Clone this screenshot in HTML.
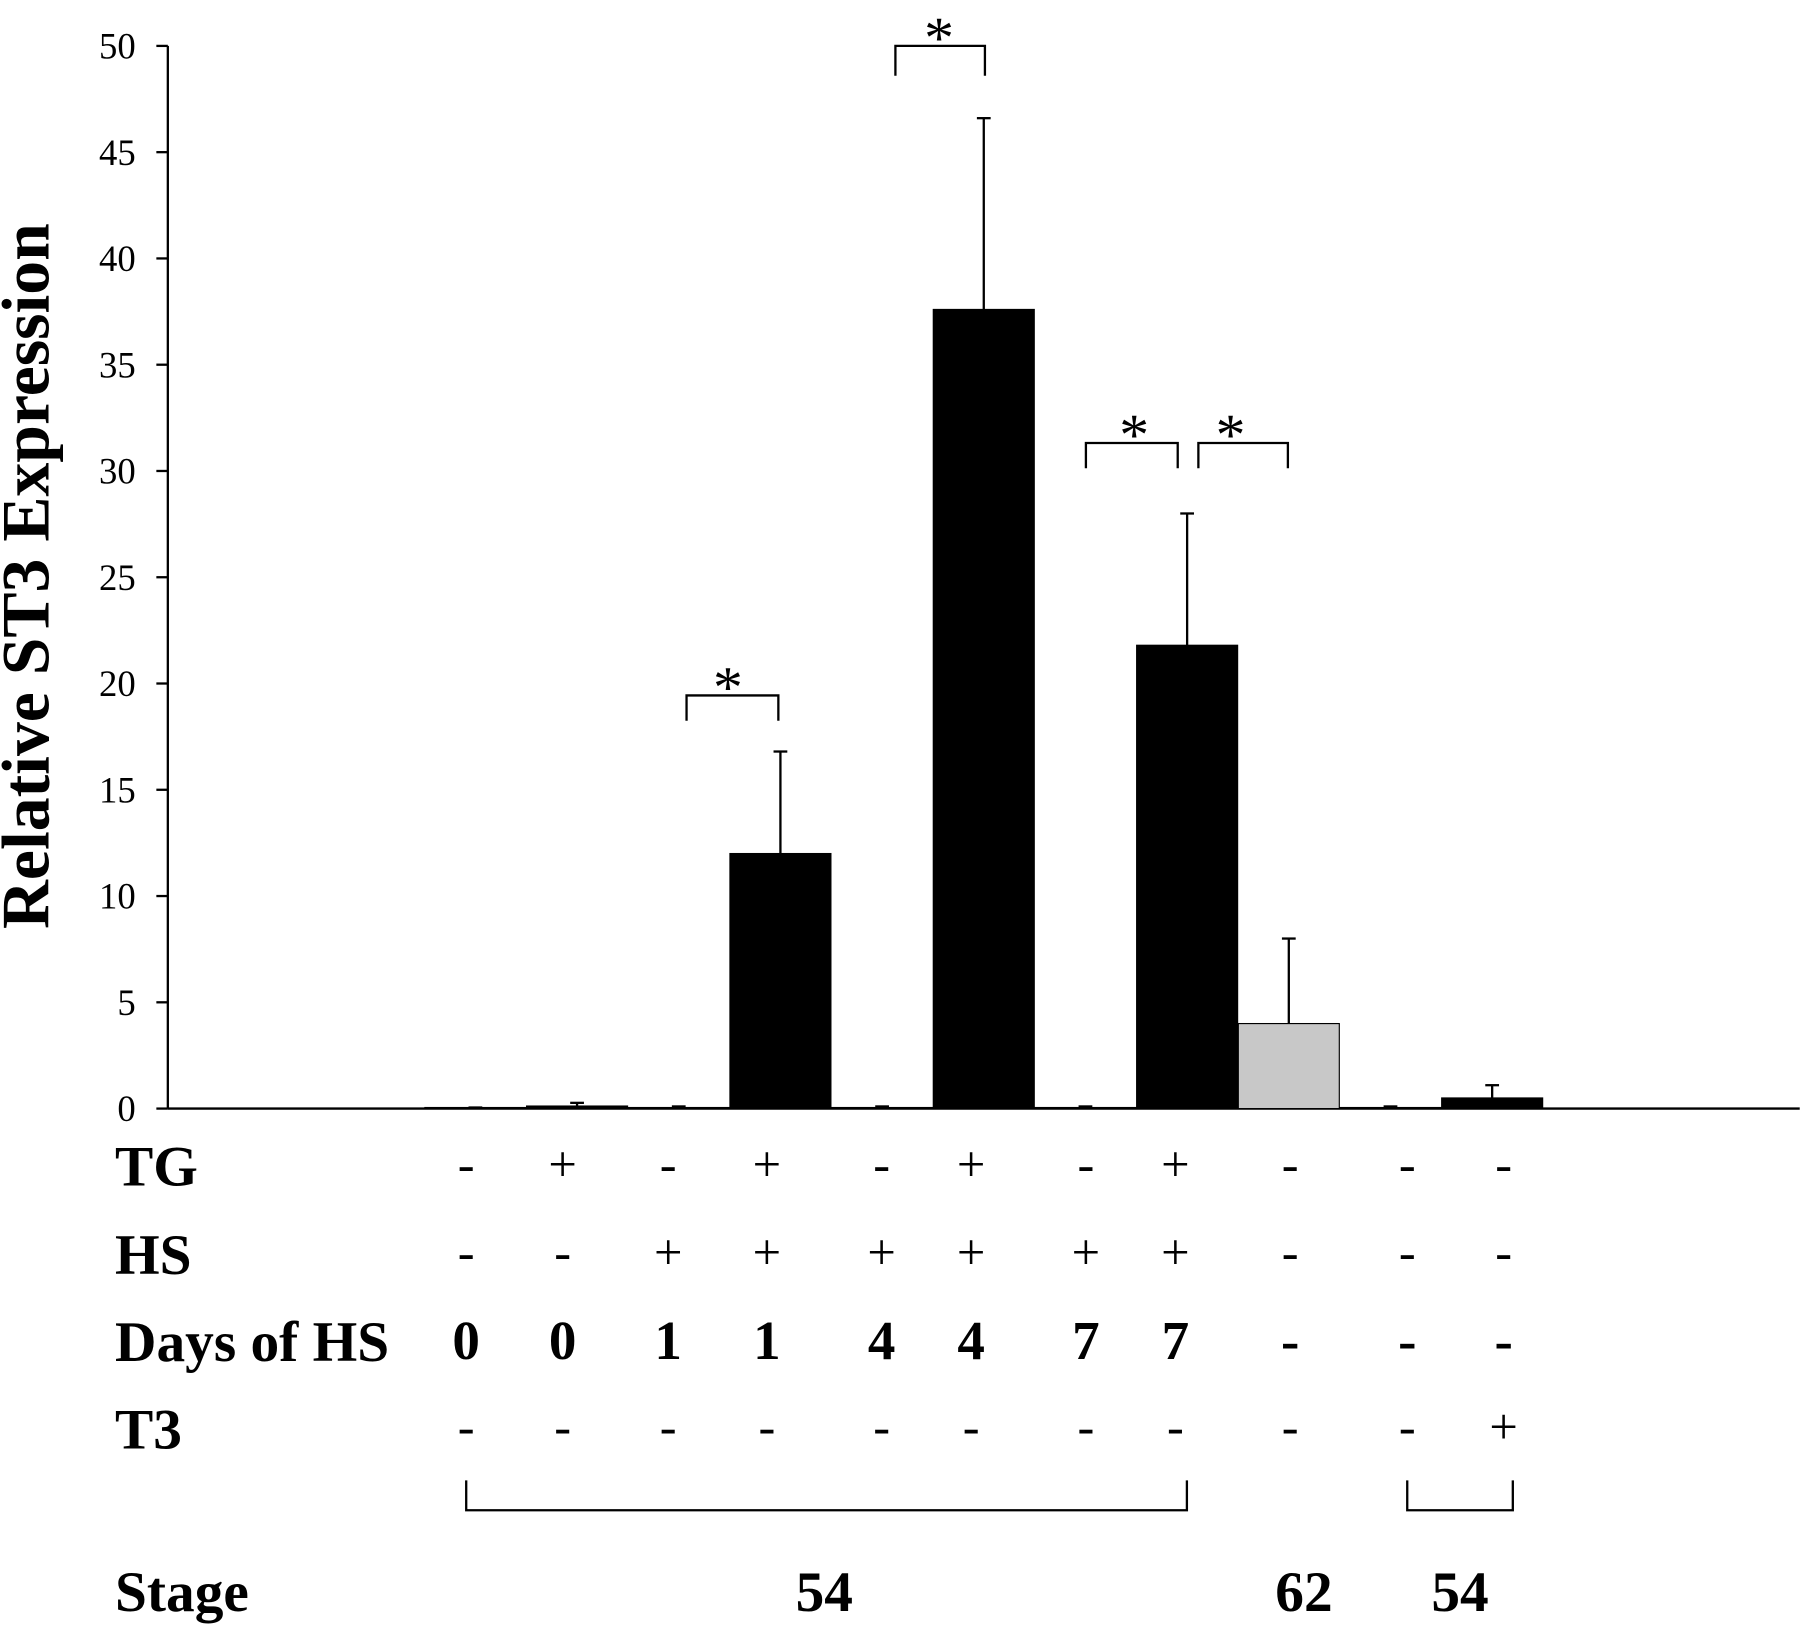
<!DOCTYPE html>
<html><head><meta charset="utf-8"><style>
html,body{margin:0;padding:0;background:#fff;}
svg{display:block;font-family:"Liberation Serif",serif;}
</style></head><body>
<svg id="chart" width="1800" height="1625" viewBox="0 0 1568 1416" xmlns="http://www.w3.org/2000/svg">
<text transform="translate(42,502) rotate(-90)" text-anchor="middle" font-size="59" font-weight="bold">Relative ST3 Expression</text>
<g id="axes"></g><g id="bars"></g><g id="table"></g><g id="sig"></g>
</svg>
<script>
const categories=["c1","c2","c3","c4","c5","c6","c7","c8","c9","c10","c11"];
const values=[0.05,0.12,0.05,12,0.05,37.6,0.05,21.8,4,0.05,0.5];
const errors=[0,0.15,0.05,4.8,0.05,9.0,0.05,6.2,4.0,0.05,0.6];
const colors=["#000","#000","#000","#000","#000","#000","#000","#000","#c8c8c8","#000","#000"];
const yTicks=[0,5,10,15,20,25,30,35,40,45,50];
const tgRow=["-","+","-","+","-","+","-","+","-","-","-"];
const hsRow=["-","-","+","+","+","+","+","+","-","-","-"];
const daysRow=["0","0","1","1","4","4","7","7","-","-","-"];
const t3Row=["-","-","-","-","-","-","-","-","-","-","+"];
const rowLabels=["TG","HS","Days of HS","T3"];
const NS="http://www.w3.org/2000/svg";
const y0=966,yTop=40,yMax=50;
const Y=v=>y0-(v/yMax)*(y0-yTop);
const barX=i=>370+i*88.6;const bw=88;
const colX=[406,490,582,668,768,846,946,1024,1124,1226,1310];
function mk(tag,attrs,parent){const e=document.createElementNS(NS,tag);for(const k in attrs)e.setAttribute(k,attrs[k]);document.getElementById(parent).appendChild(e);return e;}
mk("line",{x1:146,y1:yTop,x2:146,y2:y0,stroke:"#000","stroke-width":2},"axes");
mk("line",{x1:146,y1:y0,x2:1568,y2:y0,stroke:"#000","stroke-width":2},"axes");
yTicks.forEach(t=>{
 const l=mk("line",{x1:136,y1:Y(t),x2:146,y2:Y(t),stroke:"#000","stroke-width":2},"axes");
 
 
 const tx=mk("text",{x:118,y:Y(t)+11,"text-anchor":"end","font-size":32},"axes");tx.textContent=t;
 
 
});
values.forEach((v,i)=>{
 const x=barX(i);
 const r=mk("rect",{x:x,y:Y(v),width:bw,height:y0-Y(v),fill:colors[i],stroke:"#000","stroke-width":1},"bars");
 
 
 const cx=x+bw/2,ye=Y(v+errors[i]);
 const e=mk("line",{x1:cx,y1:Y(v),x2:cx,y2:ye,stroke:"#000","stroke-width":2},"bars");
 
 
 mk("line",{x1:cx-6,y1:ye,x2:cx+6,y2:ye,stroke:"#000","stroke-width":2},"bars");
});
const rows=[tgRow,hsRow,daysRow,t3Row];const rowY=[1033,1110,1186,1262];
rows.forEach((row,ri)=>{
 const lb=mk("text",{x:100,y:rowY[ri],"font-size":50,"font-weight":"bold"},"table");lb.textContent=rowLabels[ri];
 
 
 row.forEach((s,i)=>{const t=mk("text",{x:colX[i],y:rowY[ri]-(ri==2?2:4),"text-anchor":"middle","font-size":ri==2?48:44,"font-weight":ri==2?"bold":"normal"},"table");t.textContent=s;
 
 });
});
mk("path",{d:"M406 1290V1316H1034V1290M1226 1290V1316H1318V1290",fill:"none",stroke:"#000","stroke-width":2},"table");
[["Stage",100,"start"],["54",718,"middle"],["62",1136,"middle"],["54",1272,"middle"]].forEach(a=>{
 const t=mk("text",{x:a[1],y:1404,"text-anchor":a[2],"font-size":50,"font-weight":"bold"},"table");t.textContent=a[0];
 
 
});
[[598,678,606,628,634],[780,858,40,66,818],[946,1026,386,408,988],[1044,1122,386,408,1072]].forEach(s=>{
 const p=mk("path",{d:`M${s[0]} ${s[3]}V${s[2]}H${s[1]}V${s[3]}`,fill:"none",stroke:"#000","stroke-width":2},"sig");
 
 
 const t=mk("text",{x:s[4],y:s[2]+10,"text-anchor":"middle","font-size":52},"sig");t.textContent="*";
 
 
});
</script>
</body></html>
